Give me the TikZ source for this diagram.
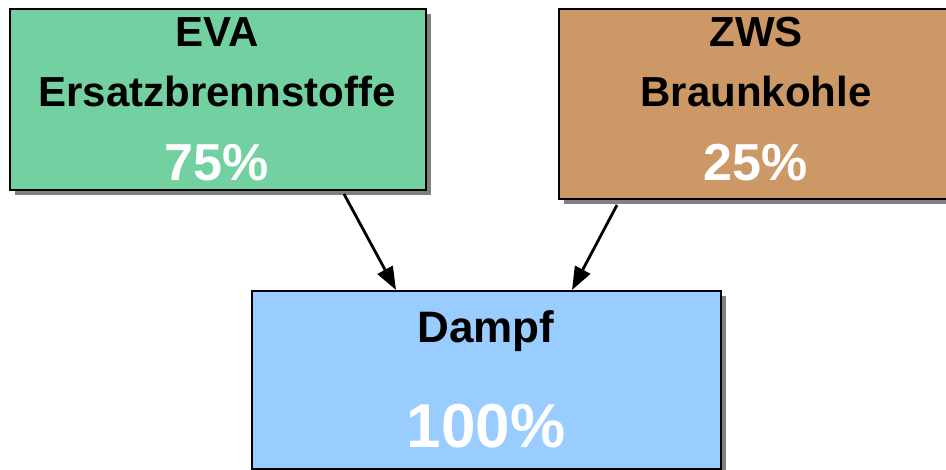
\documentclass[tikz,border=0pt]{standalone}
\usepackage{fontspec}
\setmainfont{Liberation Sans}
\usetikzlibrary{arrows.meta,shadows,calc}

\definecolor{evagreen}{RGB}{115,209,161}
\definecolor{zwsbrown}{RGB}{204,153,102}
\definecolor{steamblue}{RGB}{153,204,255}

\tikzset{
  flowbox/.style={draw=black, line width=2pt, inner sep=0pt, anchor=north west,
    drop shadow={shadow xshift=5pt, shadow yshift=-5pt, fill=black!50, opacity=1}},
  boxlabel/.style={anchor=base, inner sep=0pt, font=\bfseries\fontsize{42}{48}\selectfont},
  share/.style={anchor=base, inner sep=0pt, text=white, font=\bfseries\fontsize{52}{60}\selectfont},
  flow/.style={line width=2.8pt, -{Triangle[length=23pt,width=17pt]}}
}

\begin{document}
\begin{tikzpicture}[x=1pt,y=-1pt]
  \useasboundingbox (0,0) rectangle (946,470);

  % source and sink boxes
  \node[flowbox, fill=evagreen, minimum width=416pt, minimum height=181pt] (eva) at (9,8) {};
  \node[flowbox, fill=zwsbrown, minimum width=388pt, minimum height=190pt] (zws) at (558,8) {};
  \node[flowbox, fill=steamblue, minimum width=469pt, minimum height=178pt] (dampf) at (251,290) {};

  % box texts
  \node[boxlabel] (evaname) at (217,47) {EVA};
  \node[boxlabel] (evafuel) at (217,107) {Ersatzbrennstoffe};
  \node[share] (evashare) at (217,181) {75\%};

  \node[boxlabel] (zwsname) at (756,47) {ZWS};
  \node[boxlabel] (zwsfuel) at (756,107) {Braunkohle};
  \node[share] (zwsshare) at (756,181) {25\%};

  \node[boxlabel, font=\bfseries\fontsize{44}{50}\selectfont] (dampfname) at (486,343) {Dampf};
  \node[share, font=\bfseries\fontsize{62}{70}\selectfont] (dampfshare) at (486,448) {100\%};

  % flow arrows
  \coordinate (evaout) at ([xshift=335pt,yshift=-3pt]eva.south west);
  \coordinate (dampfinl) at ([xshift=145pt]dampf.north west);
  \coordinate (zwsout) at ([xshift=59pt,yshift=-5pt]zws.south west);
  \coordinate (dampfinr) at ([xshift=321pt]dampf.north west);

  \draw[flow] (evaout) -- (dampfinl);
  \draw[flow] (zwsout) -- (dampfinr);
\end{tikzpicture}
\end{document}
